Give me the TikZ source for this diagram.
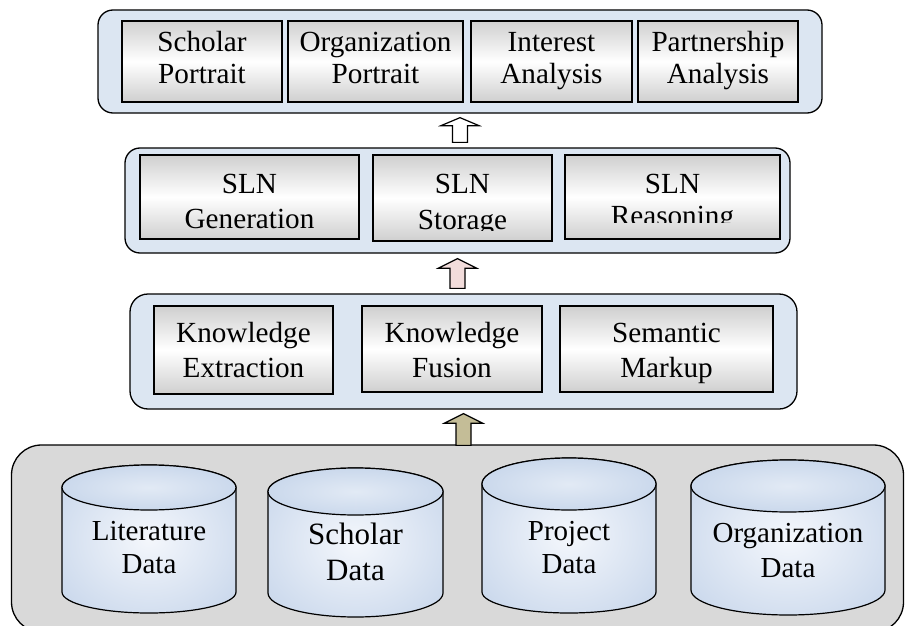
\documentclass[tikz,border=0pt]{standalone}
\usepackage{fontspec}
\setmainfont{Liberation Serif}
\usetikzlibrary{calc}
\definecolor{contblue}{HTML}{DCE6F2}
\definecolor{contgray}{HTML}{D9D9D9}
\definecolor{boxgray}{HTML}{CFCFCF}
\definecolor{cylin}{HTML}{F4F7FC}
\definecolor{cyltop}{HTML}{E2EAF5}
\definecolor{cylout}{HTML}{B3C7E3}
\definecolor{pinkarr}{HTML}{F2DCDB}
\definecolor{tanarr}{HTML}{C4BD97}
\pgfdeclareradialshading{cylshade}{\pgfpoint{0bp}{0bp}}{color(0bp)=(cylin); color(50bp)=(cylout)}
\pgfdeclareradialshading{topshade}{\pgfpoint{0bp}{0bp}}{color(0bp)=(cyltop); color(50bp)=(cylout)}
\newcommand\fs[2]{\fontsize{#1}{#2}\selectfont}
\newcommand\cylinderpath[6]{%
  \path[shade, shading=cylshade, draw, line width=1.2pt]
    (#1-#2, #3+#5) -- (#1-#2, #4-#6)
    arc[start angle=180, end angle=0, x radius=#2, y radius=#6]
    -- (#1+#2, #3+#5)
    arc[start angle=0, end angle=-180, x radius=#2, y radius=#5] -- cycle;
  \path[shade, shading=topshade, draw, line width=1.2pt]
    (#1, #3+#5) ellipse[x radius=#2, y radius=#5];
}
\newcommand\uparr[4]{%
  \draw[blockarr, fill=#4] ($(#2)+(-7.5,0)$) -- ($(#1)+(-7.5,#3)$) -- ($(#1)+(-19,#3)$)
    -- (#1) -- ($(#1)+(19,#3)$) -- ($(#1)+(7.5,#3)$) -- ($(#2)+(7.5,0)$) -- cycle;
}
\tikzset{
  cont/.style={draw, line width=1.3pt, fill=contblue, rounded corners=15pt, inner sep=0pt},
  box/.style={draw, line width=1.2pt, top color=boxgray, bottom color=boxgray, middle color=white, inner sep=0pt, minimum height=81},
  txt/.style={align=center, inner sep=0pt},
  blockarr/.style={draw, line width=1.2pt, line join=miter},
}
\begin{document}
\begin{tikzpicture}[x=1pt, y=-1pt]
\useasboundingbox (0,0) rectangle (905,626);
\clip (0,0) rectangle (905,626);
\fill[white] (0,0) rectangle (905,626);

% containers
\node[cont, minimum width=724, minimum height=103] (c1) at (460,61.5) {};
\node[cont, minimum width=665, minimum height=105] (c2) at (457.5,200.5) {};
\node[cont, minimum width=667, minimum height=115, rounded corners=18pt] (c3) at (463.5,351.5) {};
\node[cont, fill=contgray, minimum width=892, minimum height=187, rounded corners=30pt] (c4) at (457.5,538.5) {};

% top row
\node[box, minimum width=160] (sp) at (202,61.5) {};
\node[box, minimum width=175] (op) at (375.5,61.5) {};
\node[box, minimum width=161] (ia) at (551.5,61.5) {};
\node[box, minimum width=160] (pa) at (718,61.5) {};
\node[txt, font=\fs{29.2}{31.6}] (tsp) at (202,61.2) {\strut Scholar\\Portrait\strut};
\node[txt, font=\fs{29.2}{31.6}] (top) at (375.5,61.2) {\strut Organization\\Portrait\strut};
\node[txt, font=\fs{29.2}{31.6}] (tia) at (551.5,61.2) {\strut Interest\\Analysis\strut};
\node[txt, font=\fs{29.2}{31.6}] (tpa) at (718,61.2) {\strut Partnership\\Analysis\strut};

% middle row
\node[box, minimum width=219, minimum height=84] (sg) at (249.5,197) {};
\node[box, minimum width=179, minimum height=86] (ss) at (462.5,198) {};
\node[box, minimum width=215, minimum height=84] (sr) at (672.5,197) {};
\node[txt, font=\fs{29.2}{35}] (tsg) at (249.5,203.5) {\strut SLN\\Generation\strut};
\begin{scope}
\clip (373,150) rectangle (552,230.5);
\node[txt, font=\fs{29.2}{36}] (tss) at (462.5,204.2) {\strut SLN\\Storage\strut};
\end{scope}
\begin{scope}
\clip (565,150) rectangle (780,222);
\node[txt, font=\fs{29.2}{32.5}] (tsr) at (672.5,203) {\strut SLN\\Reasoning\strut};
\end{scope}

% third row
\node[box, minimum width=179, minimum height=88] (ke) at (243.5,350) {};
\node[box, minimum width=180, minimum height=86] (kf) at (452,349) {};
\node[box, minimum width=213, minimum height=86] (sm) at (666.5,349) {};
\node[txt, font=\fs{29.2}{35}] (tke) at (243.5,353) {\strut Knowledge\\Extraction\strut};
\node[txt, font=\fs{29.2}{35}] (tkf) at (452,353) {\strut Knowledge\\Fusion\strut};
\node[txt, font=\fs{29.2}{35}] (tsm) at (666.5,353) {\strut Semantic\\Markup\strut};

% cylinders
\cylinderpath{149}{87}{465}{613}{22.5}{21}
\cylinderpath{355.5}{87.5}{468}{617}{23.5}{24}
\cylinderpath{569}{87}{458}{613}{26}{21}
\cylinderpath{788}{97}{460}{615}{26}{25}
\node[txt, font=\fs{29}{33}] (tld) at (149,550) {\strut Literature\\Data\strut};
\node[txt, font=\fs{31}{36}] (tsd) at (355.5,554.8) {\strut Scholar\\Data\strut};
\node[txt, font=\fs{29}{33}] (tpd) at (569,550) {\strut Project\\Data\strut};
\node[txt, font=\fs{29}{35}] (tod) at (788,552.5) {\strut Organization\\Data\strut};

% arrows
\coordinate (a1t) at ($(c1.south)+(0,4)$);
\coordinate (a1b) at ($(c2.north -| c1.south)+(0,-5)$);
\coordinate (a2t) at ($(c2.south)+(0,5)$);
\coordinate (a2b) at ($(c3.north -| c2.south)+(0,-5)$);
\coordinate (a3t) at ($(c3.south)+(0,4)$);
\coordinate (a3b) at ($(c4.north -| c3.south)+(0,1)$);
\uparr{a1t}{a1b}{8}{white}
\uparr{a2t}{a2b}{9.5}{pinkarr}
\uparr{a3t}{a3b}{9.5}{tanarr}
\end{tikzpicture}
\end{document}
